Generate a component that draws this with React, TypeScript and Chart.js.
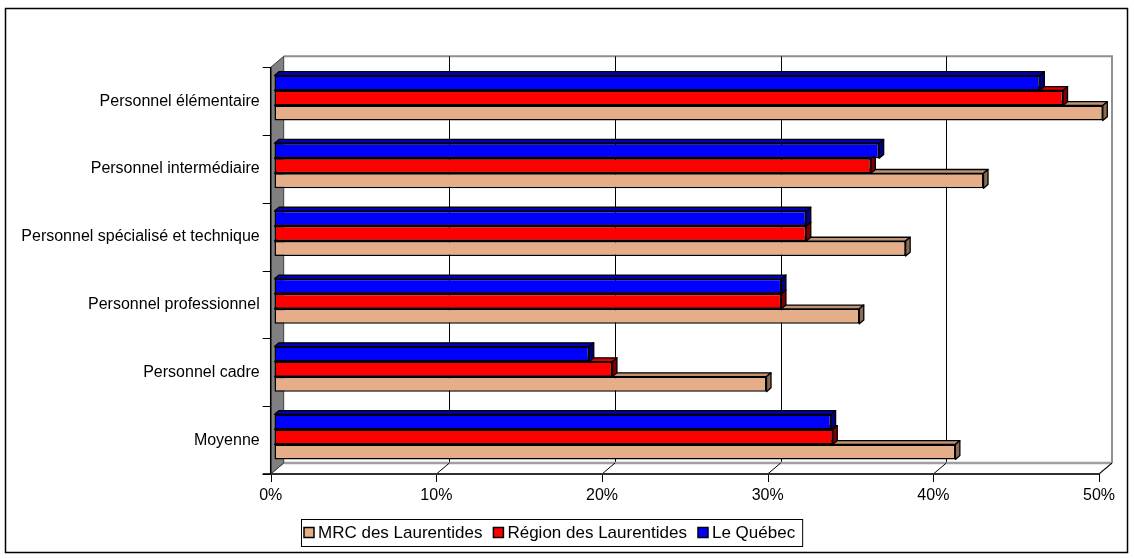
import React, { useEffect, useRef } from 'react';
import { Chart, registerables } from 'chart.js';

Chart.register(...registerables);

// ---- data ----
const categories = [
  'Personnel élémentaire',
  'Personnel intermédiaire',
  'Personnel spécialisé et technique',
  'Personnel professionnel',
  'Personnel cadre',
  'Moyenne',
];
const mrcLabel = 'MRC des Laurentides';
const regionLabel = 'Région des Laurentides';
const quebecLabel = 'Le Québec';
const mrcValues = [50.0, 42.8, 38.1, 35.3, 29.7, 41.1];
const regionValues = [47.6, 36.0, 32.1, 30.6, 20.4, 33.7];
const quebecValues = [46.2, 36.5, 32.1, 30.6, 19.0, 33.6];
const xTickValues = [0, 10, 20, 30, 40, 50];

// ---- styling ----
const FONT = '"Liberation Sans", Arial, sans-serif';
const WALL = { dx: 13, dy: -11 };
const BAR_SHIFT = { dx: 3.8, dy: -3.2 };
const BAR_DEPTH = { dx: 4.5, dy: -3.8 };

function line(ctx: CanvasRenderingContext2D, x1: number, y1: number, x2: number, y2: number) {
  ctx.beginPath();
  ctx.moveTo(x1, y1);
  ctx.lineTo(x2, y2);
  ctx.stroke();
}

const wallsPlugin = {
  id: 'walls3d',
  beforeDraw(chart: any) {
    const { ctx, chartArea: a, scales } = chart;
    const xs = scales.x;
    ctx.save();
    ctx.fillStyle = '#ffffff';
    ctx.fillRect(0, 0, chart.width, chart.height);
    // outer frame
    ctx.strokeStyle = '#000000';
    ctx.lineWidth = 1.5;
    ctx.strokeRect(5.5, 8.5, 1122, 544);

    const L = a.left, R = a.right, T = a.top, B = a.bottom;
    const bL = L + WALL.dx, bR = R + WALL.dx, bT = T + WALL.dy, bB = B + WALL.dy;

    // back wall border
    ctx.strokeStyle = '#909090';
    ctx.lineWidth = 2;
    ctx.beginPath();
    ctx.moveTo(bL, bT);
    ctx.lineTo(bR, bT);
    ctx.lineTo(bR, bB);
    ctx.stroke();

    // gridlines on back wall
    ctx.strokeStyle = '#000000';
    ctx.lineWidth = 1;
    for (const v of xTickValues.slice(1, -1)) {
      const x = Math.round(xs.getPixelForValue(v) + WALL.dx) + 0.5;
      line(ctx, x, bT, x, bB);
    }

    // floor back edge
    ctx.strokeStyle = '#a0a0a0';
    ctx.lineWidth = 2.5;
    line(ctx, bL, bB, bR, bB);
    ctx.strokeStyle = '#808080';
    ctx.lineWidth = 1.5;
    line(ctx, R, B, bR, bB);

    // floor diagonals + bottom ticks
    ctx.strokeStyle = '#000000';
    ctx.lineWidth = 1;
    for (const v of xTickValues) {
      const x = xs.getPixelForValue(v);
      line(ctx, x, B, x + WALL.dx, B + WALL.dy);
      line(ctx, Math.round(x) + 0.5, B, Math.round(x) + 0.5, B + 8);
    }

    // left wall
    ctx.fillStyle = '#808080';
    ctx.beginPath();
    ctx.moveTo(L, T);
    ctx.lineTo(bL, bT);
    ctx.lineTo(bL, bB);
    ctx.lineTo(L, B);
    ctx.closePath();
    ctx.fill();
    ctx.strokeStyle = '#404040';
    ctx.lineWidth = 1;
    ctx.stroke();

    // front axis line
    ctx.strokeStyle = '#303030';
    ctx.lineWidth = 2;
    line(ctx, L - 8, B, R, B);
    ctx.strokeStyle = '#000000';
    ctx.lineWidth = 1.5;
    line(ctx, L, T, L, B);

    // left ticks at category boundaries
    ctx.lineWidth = 1;
    const n = categories.length;
    for (let i = 0; i <= n; i++) {
      const y = Math.round(T + ((B - T) * i) / n) + 0.5;
      line(ctx, L - 8, y, L, y);
    }
    ctx.restore();
  },
};

const barsPlugin = {
  id: 'bars3d',
  beforeDatasetDraw(chart: any, args: any) {
    const { ctx } = chart;
    const ds = chart.data.datasets[args.index];
    ctx.save();
    ctx.translate(BAR_SHIFT.dx, BAR_SHIFT.dy);
    for (const el of args.meta.data) {
      const { x, y, base, height } = el.getProps(['x', 'y', 'base', 'height'], true);
      const top = y - height / 2;
      const bottom = y + height / 2;
      const left = Math.min(base, x);
      const right = Math.max(base, x);
      ctx.lineWidth = 1.3;
      ctx.lineJoin = 'round';
      ctx.strokeStyle = '#000000';
      // top face
      ctx.beginPath();
      ctx.moveTo(left, top);
      ctx.lineTo(left + BAR_DEPTH.dx, top + BAR_DEPTH.dy);
      ctx.lineTo(right + BAR_DEPTH.dx, top + BAR_DEPTH.dy);
      ctx.lineTo(right, top);
      ctx.closePath();
      ctx.fillStyle = ds.topColor;
      ctx.fill();
      ctx.stroke();
      // side face
      ctx.beginPath();
      ctx.moveTo(right, top);
      ctx.lineTo(right + BAR_DEPTH.dx, top + BAR_DEPTH.dy);
      ctx.lineTo(right + BAR_DEPTH.dx, bottom + BAR_DEPTH.dy);
      ctx.lineTo(right, bottom);
      ctx.closePath();
      ctx.fillStyle = ds.sideColor;
      ctx.fill();
      ctx.stroke();
    }
  },
  afterDatasetDraw(chart: any) {
    chart.ctx.restore();
  },
};

const legendPlugin = {
  id: 'boxLegend',
  afterDraw(chart: any) {
    const { ctx } = chart;
    const items = [...chart.data.datasets].reverse();
    ctx.save();
    ctx.font = `17px ${FONT}`;
    ctx.textBaseline = 'middle';
    ctx.textAlign = 'left';
    const left = 301, top = 519, h = 27;
    const cy = top + h / 2;
    let x = left + 3;
    for (let i = 0; i < items.length; i++) {
      const it = items[i];
      ctx.fillStyle = it.backgroundColor;
      ctx.fillRect(x, cy - 5, 10, 10);
      ctx.strokeStyle = '#000000';
      ctx.lineWidth = 1.5;
      ctx.strokeRect(x, cy - 5, 10, 10);
      x += 14;
      ctx.fillStyle = '#000000';
      ctx.fillText(it.label, x, cy + 1);
      x += ctx.measureText(it.label).width;
      if (i < items.length - 1) x += 11;
    }
    const right = x + 7;
    ctx.strokeStyle = '#000000';
    ctx.lineWidth = 1;
    ctx.strokeRect(left + 0.5, top + 0.5, right - left, h);
    ctx.restore();
  },
};

export default function App() {
  const ref = useRef<HTMLCanvasElement>(null);
  useEffect(() => {
    document.body.style.margin = '0';
    const tickFont = { family: FONT, size: 16 };
    const common = { borderColor: '#000000', borderWidth: 1.5, borderSkipped: false, clip: false };
    const chart = new Chart(ref.current as HTMLCanvasElement, {
      type: 'bar',
      data: {
        labels: categories,
        datasets: [
          { label: quebecLabel, data: quebecValues, backgroundColor: '#0000FF', topColor: '#0000B8', sideColor: '#000080', ...common } as any,
          { label: regionLabel, data: regionValues, backgroundColor: '#FF0000', topColor: '#D80000', sideColor: '#800000', ...common } as any,
          { label: mrcLabel, data: mrcValues, backgroundColor: '#E5AD88', topColor: '#BE9272', sideColor: '#8A6A55', ...common } as any,
        ],
      },
      options: {
        indexAxis: 'y',
        responsive: false,
        animation: false,
        devicePixelRatio: 1,
        categoryPercentage: 0.664,
        barPercentage: 1,
        layout: { padding: { left: 0, right: 35, top: 67.3, bottom: 55 } },
        scales: {
          x: {
            min: 0,
            max: 50,
            ticks: { stepSize: 10, callback: (v: any) => `${v}%`, font: tickFont, color: '#000000', padding: 12, maxRotation: 0 },
            grid: { display: false, drawTicks: false },
            border: { display: false },
            afterFit: (s: any) => { s.height = 30; },
          },
          y: {
            ticks: { font: tickFont, color: '#000000', padding: 11 },
            grid: { display: false, drawTicks: false },
            border: { display: false },
            afterFit: (s: any) => { s.width = 270.7; },
          },
        },
        plugins: { legend: { display: false }, tooltip: { enabled: false } },
      } as any,
      plugins: [wallsPlugin, barsPlugin, legendPlugin],
    });
    return () => chart.destroy();
  }, []);
  return (
    <div style={{ width: 1134, height: 559 }}>
      <canvas ref={ref} width={1134} height={559} style={{ display: 'block', width: 1134, height: 559 }} />
    </div>
  );
}
